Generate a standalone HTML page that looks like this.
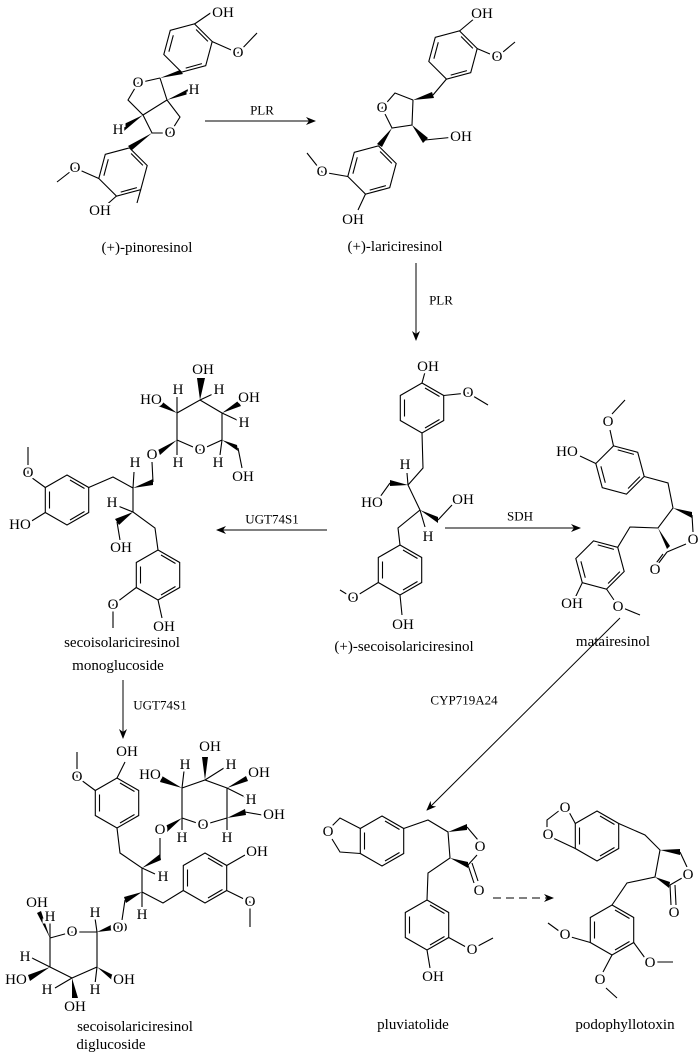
<!DOCTYPE html>
<html><head><meta charset="utf-8"><style>
html,body{margin:0;padding:0;background:#fff;}
svg{display:block;}
text{font-family:"Liberation Serif",serif;font-size:15px;fill:#000;text-anchor:middle;dominant-baseline:central;paint-order:stroke;stroke:#fff;stroke-width:5px;}
text.lb{font-size:15px;stroke:none;}
text.ar{font-size:13px;stroke:none;}
</style></head><body>
<svg width="700" height="1055" viewBox="0 0 700 1055" xmlns="http://www.w3.org/2000/svg">
<defs>
<g id="hx" fill="none" stroke="#000" stroke-width="1.1">
<polygon points="0,-25 21.7,-12.5 21.7,12.5 0,25 -21.7,12.5 -21.7,-12.5"/>
<line x1="3" y1="-20" x2="17.5" y2="-11.5"/>
<line x1="17.5" y1="11.5" x2="3" y2="20"/>
<line x1="-17.5" y1="-8.5" x2="-17.5" y2="8.5"/>
</g>
<marker id="ah" markerWidth="10" markerHeight="8" refX="9" refY="4" orient="auto" markerUnits="userSpaceOnUse">
<path d="M0,0 L10,4 L0,8 L3,4 Z" fill="#000"/>
</marker>
</defs>

<g stroke="#000" stroke-width="1.1" fill="none">
<use href="#hx" transform="translate(188,48) rotate(15)"/>
<use href="#hx" transform="translate(123,172) rotate(15)"/>
<use href="#hx" transform="translate(453,55) rotate(15)"/>
<use href="#hx" transform="translate(372,170) rotate(15)"/>
<use href="#hx" transform="translate(422,408)"/>
<use href="#hx" transform="translate(400,570)"/>
<use href="#hx" transform="translate(67,500)"/>
<use href="#hx" transform="translate(158,575)"/>
<use href="#hx" transform="translate(620,470) rotate(-15)"/>
<use href="#hx" transform="translate(600,565) rotate(-15)"/>
<use href="#hx" transform="translate(117,803)"/>
<use href="#hx" transform="translate(205,878)"/>
<use href="#hx" transform="translate(382,841)"/>
<use href="#hx" transform="translate(427,925)"/>
<use href="#hx" transform="translate(597,836)"/>
<use href="#hx" transform="translate(612,930)"/>

<path d="M194.5,24 L212,12 M212,41.5 L238,53 L257,33"/>
<path d="M160,78 L138,83 L128,100 L143,115 L167,100 L160,78 M143,115 L152,133 L170,133 L180,117 L167,100"/>
<path d="M116.5,196 L103,208 M98.8,178.5 L75,168 L57,182 M140.7,189.7 L137,203"/>
<path d="M459.5,31 L475,18 M477,48.5 L497,57 L515,42 M446.5,79 L433,95"/>
<path d="M413,100 L395,93 L382,108 L392,128 L412,125 L413,100 M425,140 L455,137"/>
<path d="M365.5,194 L358,210 M347.8,176.5 L322,172 L307,153"/>
<path d="M422,383 L425,372 M443.7,395.5 L468,393 L488,405 M422,433 L423,468 L408,485 L420,510 L398,528 L400,545 M408,485 L407,473 M390,483 L380,497 M420,510 L425,527 M438,520 L452,505"/>
<path d="M400,595 L402,615 M378.3,582.5 L353,598 L340,590"/>
<path d="M45.3,487.5 L28,475 L28,447 M45.3,512.5 L30,522 M88.7,487.5 L113,477 L133,488 L133,512 L155,528 L158,550 M133,488 L134,472 M153,482 L152,462 M133,512 L118,506 M117,522 L120,540"/>
<path d="M136.3,587.5 L113,605 L113,628 M158,600 L162,618"/>
<path d="M177,440 L200,450 L222,440 L222,413 L200,400 L177,413 Z M177,440 L177,455 M177,413 L177,397 M200,400 L215,393 M222,413 L237,420 M238,448 L242,468 M222,440 L220,455"/>
<path d="M117,778 L125,762 M95.3,790.5 L77,777 L77,752 M117,828 L120,853 L142,868 L142,892 L163,903 L183.3,890.5 M160,857 L160,838 M142,868 L155,874 M125,900 L122,920 M142,892 L142,907"/>
<path d="M226.7,865.5 L245,855 M226.7,890.5 L250,902 L250,927"/>
<path d="M182,818 L203,825 L227,818 L227,788 L205,780 L182,788 Z M182,818 L182,832 M182,788 L184,771 M205,780 L224,768 M227,788 L245,797 M245,812 L262,815 M227,818 L227,832"/>
<path d="M97,932 L72,932 L50,938 L50,967 L72,978 L97,967 Z M97,932 L95,918 M50,938 L50,922 M50,967 L32,958 M72,978 L55,988 M97,967 L95,984"/>
<path d="M595.8,463.5 L580,456 M613.5,446 L610,430 M612,414 L625,400 M644.2,476.5 L668,483 L673,508 L658,528 L630,527 L617.7,547.3 M692,515 L693,532 M667,552 L686,544"/>
<path d="M667,552 L658,564 M663,554 L654,566"/>
<path d="M582.3,582.7 L575,598 M606.5,589 L614,600 M623,608 L640,615"/>
<path d="M360.3,828.5 L340,818 L332,826 M332,839 L340,852 L360.3,853.5"/>
<path d="M403.7,828.5 L428,820 L448,832 L450,858 L428,873 L427,900 M467,827 L478,840 M468,865 L477,855"/>
<path d="M468,865 L474,883 M472,863 L478,881"/>
<path d="M427,950 L430,968 M448.7,937.5 L466,947 M478,946 L493,938"/>
<path d="M575.3,823.5 L569,812 M560,810 L547,820 L547,829 M553,838 L575.3,848.5"/>
<path d="M618.7,823.5 L645,835 L660,850 L655,877 L627,883 L612,905 M680,852 L687,867 M670,885 L682,878"/>
<path d="M670,885 L671,905 M675,885 L676,905"/>
<path d="M590.3,942.5 L571,937 M559,931 L548,923 M633.7,942.5 L645,958 M657,962 L673,962 M612,955 L603,972 M606,988 L617,998"/>
</g>

<g fill="#000" stroke="none">
<polygon points="160,78 180,70 183,74"/>
<polygon points="167,100 190,88 192,93"/>
<polygon points="143,115 122,125 124,131"/>
<polygon points="152,133 128,146 132,150"/>
<polygon points="413,100 432,92 434,98"/>
<polygon points="392,128 377,144 382,147"/>
<polygon points="412,125 423,143 428,138"/>
<polygon points="408,485 390,480 390,486"/>
<polygon points="420,510 438,517 438,523"/>
<polygon points="133,488 153,479 153,485"/>
<polygon points="133,512 115,519 119,525"/>
<polygon points="177,440 158,450 160,455"/>
<polygon points="177,413 160,400 158,406"/>
<polygon points="200,400 197,378 205,378"/>
<polygon points="222,413 238,401 241,406"/>
<polygon points="222,440 237,445 238,451"/>
<polygon points="142,868 160,854 161,860"/>
<polygon points="142,892 124,897 126,903"/>
<polygon points="182,818 165,826 167,832"/>
<polygon points="182,788 162,776 160,782"/>
<polygon points="205,780 202,757 208,757"/>
<polygon points="227,788 246,776 248,781"/>
<polygon points="227,818 245,809 246,815"/>
<polygon points="97,932 113,924 115,930"/>
<polygon points="50,938 37,913 41,911"/>
<polygon points="50,967 28,975 30,981"/>
<polygon points="72,978 72,998 78,998"/>
<polygon points="97,967 115,976 113,981"/>
<polygon points="673,508 692,512 692,518"/>
<polygon points="658,528 667,549 670,546"/>
<polygon points="448,832 467,824 467,830"/>
<polygon points="450,858 468,862 468,868"/>
<polygon points="660,850 680,849 680,855"/>
<polygon points="655,877 670,882 669,888"/>
</g>

<text x="223" y="13">OH</text>
<text x="238" y="53">O</text>
<text x="138" y="83">O</text>
<text x="170" y="133">O</text>
<text x="194" y="90">H</text>
<text x="118" y="130">H</text>
<text x="100" y="211">OH</text>
<text x="75" y="168">O</text>
<text x="482" y="14">OH</text>
<text x="497" y="57">O</text>
<text x="382" y="108">O</text>
<text x="461" y="137">OH</text>
<text x="353" y="220">OH</text>
<text x="322" y="172">O</text>
<text x="428" y="367">OH</text>
<text x="468" y="393">O</text>
<text x="405" y="465">H</text>
<text x="372" y="503">HO</text>
<text x="463" y="500">OH</text>
<text x="428" y="537">H</text>
<text x="403" y="625">OH</text>
<text x="353" y="598">O</text>
<text x="28" y="473">O</text>
<text x="20" y="525">HO</text>
<text x="135" y="463">H</text>
<text x="152" y="455">O</text>
<text x="112" y="503">H</text>
<text x="121" y="548">OH</text>
<text x="113" y="605">O</text>
<text x="164" y="627">OH</text>
<text x="200" y="450">O</text>
<text x="151" y="400">HO</text>
<text x="178" y="390">H</text>
<text x="203" y="370">OH</text>
<text x="219" y="390">H</text>
<text x="249" y="398">OH</text>
<text x="244" y="423">H</text>
<text x="178" y="463">H</text>
<text x="218" y="463">H</text>
<text x="243" y="477">OH</text>
<text x="127" y="752">OH</text>
<text x="77" y="777">O</text>
<text x="160" y="830">O</text>
<text x="163" y="877">H</text>
<text x="122" y="928">O</text>
<text x="142" y="915">H</text>
<text x="257" y="852">OH</text>
<text x="250" y="902">O</text>
<text x="203" y="825">O</text>
<text x="150" y="775">HO</text>
<text x="185" y="765">H</text>
<text x="210" y="747">OH</text>
<text x="231" y="765">H</text>
<text x="259" y="773">OH</text>
<text x="251" y="800">H</text>
<text x="274" y="815">OH</text>
<text x="182" y="838">H</text>
<text x="227" y="838">H</text>
<text x="72" y="932">O</text>
<text x="118" y="928">O</text>
<text x="37" y="903">OH</text>
<text x="50" y="917">H</text>
<text x="95" y="913">H</text>
<text x="25" y="957">H</text>
<text x="16" y="980">HO</text>
<text x="47" y="990">H</text>
<text x="124" y="980">OH</text>
<text x="95" y="990">H</text>
<text x="75" y="1007">OH</text>
<text x="567" y="452">HO</text>
<text x="608" y="422">O</text>
<text x="693" y="540">O</text>
<text x="655" y="570">O</text>
<text x="572" y="604">OH</text>
<text x="618" y="607">O</text>
<text x="328" y="832">O</text>
<text x="480" y="847">O</text>
<text x="479" y="891">O</text>
<text x="433" y="977">OH</text>
<text x="472" y="950">O</text>
<text x="565" y="808">O</text>
<text x="548" y="835">O</text>
<text x="688" y="875">O</text>
<text x="674" y="913">O</text>
<text x="565" y="935">O</text>
<text x="650" y="963">O</text>
<text x="600" y="980">O</text>

<g stroke="#000" stroke-width="1" fill="none">
<line x1="205" y1="121" x2="315" y2="121" marker-end="url(#ah)"/>
<line x1="416" y1="263" x2="416" y2="340" marker-end="url(#ah)"/>
<line x1="327" y1="530" x2="217" y2="530" marker-end="url(#ah)"/>
<line x1="445" y1="528" x2="580" y2="528" marker-end="url(#ah)"/>
<line x1="620" y1="618" x2="427" y2="810" marker-end="url(#ah)"/>
<line x1="123" y1="680" x2="123" y2="738" marker-end="url(#ah)"/>
<line x1="493" y1="898" x2="553" y2="898" stroke-dasharray="8,5" marker-end="url(#ah)"/>
</g>
<text class="ar" x="262" y="110">PLR</text>
<text class="ar" x="441" y="300">PLR</text>
<text class="ar" x="272" y="519">UGT74S1</text>
<text class="ar" x="520" y="516">SDH</text>
<text class="ar" x="464" y="700">CYP719A24</text>
<text class="ar" x="160" y="705">UGT74S1</text>

<text class="lb" x="147" y="248">(+)-pinoresinol</text>
<text class="lb" x="395" y="247">(+)-lariciresinol</text>
<text class="lb" x="122" y="643">secoisolariciresinol</text>
<text class="lb" x="118" y="666">monoglucoside</text>
<text class="lb" x="404" y="647">(+)-secoisolariciresinol</text>
<text class="lb" x="613" y="642">matairesinol</text>
<text class="lb" x="135" y="1027">secoisolariciresinol</text>
<text class="lb" x="111" y="1045">diglucoside</text>
<text class="lb" x="413" y="1025">pluviatolide</text>
<text class="lb" x="625" y="1025">podophyllotoxin</text>
</svg>
</body></html>
